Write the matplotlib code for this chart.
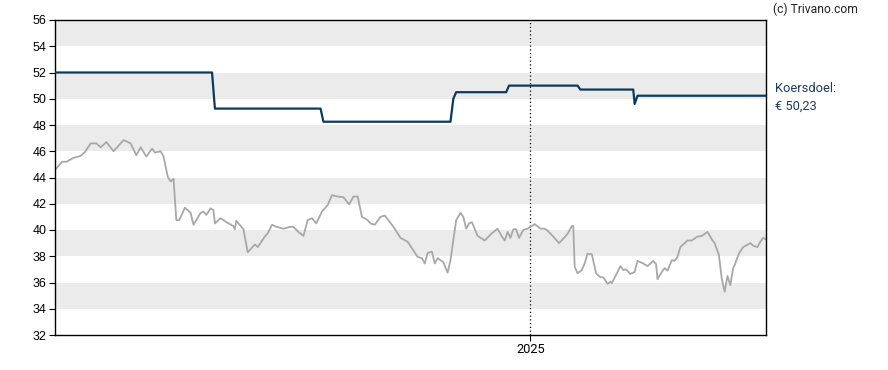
import pandas as pd
import matplotlib.pyplot as plt
import matplotlib.dates as mdates

# startdatum van de grafiek, x-waarden zijn dagen daarna
start = pd.Timestamp("2024-02-03")
end = pd.Timestamp("2025-06-15")

# koers (grijs)
koers_dagen = [0, 5, 8, 13, 18, 21, 25, 29, 32, 36, 41, 48, 53, 57, 60, 64, 68, 70, 74, 76,
               79, 81, 83, 85, 87, 91, 95, 97, 102, 104, 106, 109, 111, 112, 116, 120, 125, 126, 127, 132,
               135, 140, 142, 147, 149, 152, 155, 160, 165, 167, 170, 174, 177, 180, 183, 187, 191, 194, 198, 202,
               206, 209, 212, 215, 219, 221, 224, 228, 231, 237, 242, 247, 254, 257, 259, 261, 264, 266, 268, 272,
               275, 277, 279, 281, 284, 286, 288, 290, 292, 296, 301, 306, 310, 313, 315, 317, 319, 321, 323, 325,
               328, 331, 336, 340, 343, 345, 349, 353, 357, 359, 362, 363, 364, 366, 369, 371, 373, 376, 379, 382,
               384, 387, 389, 390, 394, 396, 398, 400, 403, 406, 408, 412, 415, 419, 421, 422, 425, 427, 429, 432,
               434, 436, 438, 441, 443, 446, 450, 453, 457, 460, 462, 465, 467, 469, 471, 473, 475, 476, 479, 482,
               487, 489, 492, 494, 496, 498]
koers = [44.57, 45.2, 45.2, 45.5, 45.65, 45.95, 46.6, 46.6, 46.3, 46.7, 46.0, 46.85, 46.6, 45.7, 46.3, 45.6, 46.2, 45.9, 46.0, 45.6,
         44.05, 43.7, 43.9, 40.75, 40.75, 41.7, 41.3, 40.4, 41.3, 41.4, 41.15, 41.65, 41.5, 40.5, 40.9, 40.6, 40.3, 40.05, 40.7, 40.05,
         38.3, 38.9, 38.7, 39.5, 39.75, 40.4, 40.25, 40.1, 40.25, 40.25, 39.9, 39.55, 40.75, 40.9, 40.5, 41.4, 41.9, 42.65, 42.55, 42.5,
         41.95, 42.55, 42.55, 41.0, 40.75, 40.5, 40.4, 41.0, 41.1, 40.25, 39.4, 39.1, 37.95, 37.85, 37.45, 38.25, 38.35, 37.45, 37.85, 37.55,
         36.75, 37.7, 39.2, 40.75, 41.3, 41.0, 40.1, 40.5, 40.6, 39.55, 39.2, 39.75, 40.1, 39.5, 39.2, 39.85, 39.4, 40.05, 40.05, 39.4,
         40.0, 40.1, 40.45, 40.1, 40.1, 39.95, 39.5, 39.0, 39.45, 39.7, 40.3, 40.3, 37.2, 36.7, 36.95, 37.45, 38.2, 38.15, 36.7, 36.4,
         36.4, 35.9, 36.05, 35.95, 36.8, 37.25, 36.95, 37.0, 36.65, 36.8, 37.65, 37.45, 37.25, 37.65, 37.4, 36.25, 36.8, 37.1, 36.9, 37.7,
         37.65, 37.95, 38.7, 39.0, 39.2, 39.2, 39.5, 39.55, 39.85, 39.3, 39.0, 38.1, 36.3, 35.3, 36.5, 35.8, 37.1, 37.3, 38.2, 38.7,
         39.0, 38.8, 38.7, 39.1, 39.4, 39.3]

# koersdoel (donkerblauw)
doel_dagen = [0, 110, 112, 186, 188, 277, 279, 281, 316, 318, 366, 368, 405, 406, 408, 498]
doel = [52.0, 52.0, 49.25, 49.25, 48.25, 48.25, 50.0, 50.5, 50.5, 51.0, 51.0, 50.7, 50.7, 49.6, 50.23, 50.23]

y_ticks = list(range(32, 57, 2))
banden = [(54, 56), (50, 52), (46, 48), (42, 44), (38, 40), (34, 36)]

koers_x = [start + pd.Timedelta(days=d) for d in koers_dagen]
doel_x = [start + pd.Timedelta(days=d) for d in doel_dagen]

fig = plt.figure(figsize=(8.88, 3.70), dpi=100)
ax = fig.add_axes([55 / 888, 1 - 335 / 370, 711 / 888, 315 / 370])

for lo, hi in banden:
    ax.axhspan(lo, hi, color="#ebebeb", lw=0, zorder=0)

ax.axvline(pd.Timestamp("2025-01-01"), color="black", lw=0.9, ls=(0, (1, 2)), zorder=1)

ax.plot(koers_x, koers, color="#a8a8a8", lw=1.3, zorder=2)
ax.plot(doel_x, doel, color="#0d3a5c", lw=1.6, zorder=3)

ax.set_xlim(start, end)
ax.set_ylim(32, 56)
ax.set_yticks(y_ticks)
ax.set_xticks([pd.Timestamp("2025-01-01")])
ax.xaxis.set_major_formatter(mdates.DateFormatter("%Y"))

for s in ax.spines.values():
    s.set_color("black")
    s.set_linewidth(1.0)

ax.tick_params(axis="both", direction="out", length=4, width=0.8, color="black",
               labelsize=8, labelcolor="black", pad=2)
for lab in ax.get_yticklabels():
    lab.set_fontfamily("Liberation Sans")
    lab.set_fontsize(9)
for lab in ax.get_xticklabels():
    lab.set_fontfamily("Roboto")
    lab.set_fontsize(9.3)

fig.text(773 / 888, 1 - 9 / 370, "(c) Trivano.com", fontsize=8.7, family="Roboto",
         color="#222222", va="center", ha="left")
fig.text(775 / 888, 1 - 88 / 370, "Koersdoel:", fontsize=9.3, family="Roboto",
         color="#1d3d5c", va="center", ha="left")
fig.text(775 / 888, 1 - 106 / 370, "€ 50,23", fontsize=9.3, family="Roboto",
         color="#1d3d5c", va="center", ha="left")

fig.savefig("out.png", dpi=100)
